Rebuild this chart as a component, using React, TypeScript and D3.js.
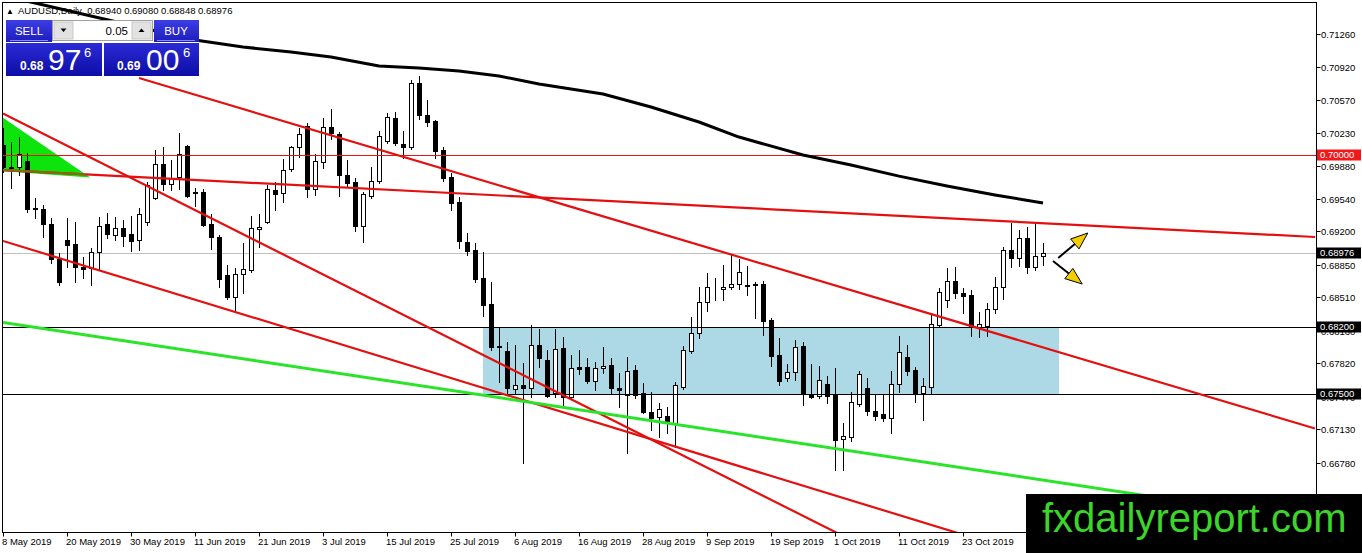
import React from "react";
import * as d3 from "d3";

// ---------- DATA ----------
const opens = [
  0.70101, 0.69866, 0.69871, 0.69934, 0.69443, 0.69432, 0.69276, 0.6891, 0.69109, 0.69067,
  0.68827, 0.68816, 0.68983, 0.69276, 0.69161, 0.69234, 0.69171, 0.69109, 0.69297, 0.69547,
  0.69902, 0.69693, 0.69767, 0.7009, 0.6961, 0.6961, 0.69276, 0.6914, 0.68743, 0.68513,
  0.68754, 0.68795, 0.69224, 0.69297, 0.69631, 0.696, 0.6985, 0.7008, 0.70299, 0.69641,
  0.69923, 0.70289, 0.70216, 0.69788, 0.69714, 0.69255, 0.69568, 0.69725, 0.70143, 0.70383,
  0.70111, 0.7008, 0.70748, 0.70414, 0.70351, 0.70049, 0.69767, 0.69506, 0.69088, 0.69004,
  0.68712, 0.6844, 0.68002, 0.6795, 0.67553, 0.67594, 0.67563, 0.68012, 0.67856, 0.67511,
  0.67981, 0.67469, 0.67782, 0.67782, 0.67636, 0.67772, 0.67803, 0.67563, 0.6749, 0.67751,
  0.67511, 0.67313, 0.6726, 0.67271, 0.67198, 0.67574, 0.6795, 0.68138, 0.68461, 0.68597,
  0.68597, 0.68618, 0.68649, 0.68639, 0.68649, 0.68649, 0.68273, 0.67908, 0.67668, 0.6773,
  0.68002, 0.675, 0.6748, 0.67605, 0.6749, 0.67031, 0.67051, 0.67396, 0.67563, 0.67323,
  0.67292, 0.6725, 0.67605, 0.67887, 0.67751, 0.67511, 0.67574, 0.68221, 0.68482, 0.68681,
  0.68555, 0.68534, 0.682, 0.68211, 0.68388, 0.68618, 0.69004, 0.68921, 0.6913, 0.68827,
  0.6894,
];
const highs = [
  0.70278, 0.70132, 0.70184, 0.70017, 0.69547, 0.69474, 0.69338, 0.68973, 0.69338, 0.69297,
  0.68931, 0.69025, 0.69349, 0.69391, 0.69349, 0.69318, 0.69359, 0.69443, 0.69714, 0.70049,
  0.7008, 0.69944, 0.70226, 0.70101, 0.69652, 0.69641, 0.6938, 0.69161, 0.68848, 0.68816,
  0.69077, 0.69359, 0.6938, 0.69683, 0.69714, 0.69955, 0.7009, 0.70278, 0.70331, 0.70007,
  0.70383, 0.70477, 0.70237, 0.69944, 0.69756, 0.6961, 0.69871, 0.70247, 0.70435, 0.70445,
  0.70247, 0.7078, 0.70821, 0.70571, 0.70362, 0.7008, 0.69808, 0.69558, 0.69182, 0.69077,
  0.68983, 0.6867, 0.682, 0.68044, 0.68012, 0.67824, 0.68221, 0.68179, 0.6796, 0.68179,
  0.68096, 0.67908, 0.6796, 0.67876, 0.67835, 0.67991, 0.67876, 0.6772, 0.67887, 0.67803,
  0.67615, 0.67521, 0.67407, 0.67365, 0.67626, 0.68002, 0.68305, 0.68618, 0.68764, 0.68712,
  0.68848, 0.68952, 0.6891, 0.68837, 0.6867, 0.68681, 0.68294, 0.68085, 0.67814, 0.68064,
  0.68044, 0.67814, 0.67793, 0.67688, 0.67772, 0.67198, 0.67521, 0.67741, 0.67668, 0.6749,
  0.6749, 0.67741, 0.68106, 0.68012, 0.67782, 0.67668, 0.68326, 0.68607, 0.68816, 0.68827,
  0.68607, 0.68587, 0.68357, 0.68451, 0.68722, 0.69036, 0.69286, 0.69213, 0.69244, 0.69286,
  0.6908,
];
const lows = [
  0.69819, 0.69652, 0.69788, 0.69401, 0.69338, 0.6914, 0.68869, 0.68639, 0.68827, 0.6867,
  0.68712, 0.68639, 0.68795, 0.6913, 0.69109, 0.69046, 0.68994, 0.69004, 0.69265, 0.69537,
  0.69631, 0.69631, 0.69641, 0.69558, 0.69464, 0.69255, 0.69015, 0.68618, 0.68493, 0.68357,
  0.68555, 0.68775, 0.69036, 0.69286, 0.69422, 0.69506, 0.69829, 0.69975, 0.69558, 0.69579,
  0.69861, 0.70163, 0.69568, 0.69673, 0.69203, 0.69088, 0.69547, 0.69704, 0.70122, 0.70101,
  0.69965, 0.70059, 0.70372, 0.70299, 0.69965, 0.69725, 0.69422, 0.69025, 0.68952, 0.6867,
  0.68315, 0.6796, 0.67626, 0.67511, 0.67511, 0.6678, 0.67469, 0.67782, 0.67469, 0.67469,
  0.67365, 0.67459, 0.67709, 0.67615, 0.67542, 0.6772, 0.675, 0.67365, 0.66884, 0.67459,
  0.67302, 0.67125, 0.67051, 0.67093, 0.66947, 0.67553, 0.67929, 0.68085, 0.68367, 0.68482,
  0.68482, 0.68597, 0.68597, 0.68534, 0.68294, 0.68117, 0.67793, 0.67594, 0.67636, 0.67647,
  0.67386, 0.67459, 0.67459, 0.67407, 0.66707, 0.66707, 0.6701, 0.67375, 0.67281, 0.67229,
  0.67219, 0.67093, 0.67521, 0.67699, 0.67417, 0.67229, 0.67511, 0.68211, 0.68409, 0.68503,
  0.68346, 0.68106, 0.68096, 0.68106, 0.68346, 0.68493, 0.68827, 0.68837, 0.68764, 0.68795,
  0.68848,
];
const closes = [
  0.69871, 0.69861, 0.70007, 0.69432, 0.69432, 0.69276, 0.6891, 0.6867, 0.69057, 0.68827,
  0.68806, 0.68983, 0.69255, 0.69171, 0.69234, 0.69151, 0.69098, 0.6938, 0.69683, 0.69902,
  0.69693, 0.69756, 0.70007, 0.69568, 0.696, 0.69265, 0.6914, 0.68701, 0.68513, 0.68754,
  0.68806, 0.69234, 0.69244, 0.69641, 0.69589, 0.6984, 0.7008, 0.70216, 0.69641, 0.69934,
  0.70289, 0.70226, 0.69788, 0.69704, 0.69255, 0.69589, 0.69725, 0.70195, 0.70393, 0.70122,
  0.7008, 0.70748, 0.70414, 0.70341, 0.70038, 0.69756, 0.69495, 0.69098, 0.68994, 0.68701,
  0.6843, 0.67991, 0.67991, 0.67563, 0.67594, 0.67563, 0.68012, 0.67876, 0.6748, 0.6797,
  0.67469, 0.67772, 0.67762, 0.67636, 0.67772, 0.67793, 0.67563, 0.67542, 0.67741, 0.6749,
  0.67313, 0.6725, 0.67344, 0.67198, 0.67594, 0.6796, 0.68138, 0.68461, 0.68618, 0.68602,
  0.68618, 0.68649, 0.68775, 0.68628, 0.68639, 0.68263, 0.67897, 0.67636, 0.6773, 0.67991,
  0.675, 0.67469, 0.67647, 0.6748, 0.6702, 0.67062, 0.67417, 0.67709, 0.67323, 0.67271,
  0.6725, 0.67605, 0.67939, 0.67741, 0.675, 0.67584, 0.68232, 0.68566, 0.68681, 0.68555,
  0.68524, 0.682, 0.68232, 0.68388, 0.68618, 0.69004, 0.68921, 0.6913, 0.68827, 0.68942,
  0.68976,
];

const dateLabels = [
  "8 May 2019", "20 May 2019", "30 May 2019", "11 Jun 2019", "21 Jun 2019", "3 Jul 2019",
  "15 Jul 2019", "25 Jul 2019", "6 Aug 2019", "16 Aug 2019", "28 Aug 2019", "9 Sep 2019",
  "19 Sep 2019", "1 Oct 2019", "11 Oct 2019", "23 Oct 2019", "4 Nov 2019",
];
const dateLabelBars = [0, 8, 16, 24, 32, 40, 48, 56, 64, 72, 80, 88, 96, 104, 112, 120, 128];

const priceTicks = [
  0.7126, 0.7092, 0.7057, 0.7023, 0.6988, 0.6954, 0.692, 0.6885, 0.6851, 0.6816, 0.6782,
  0.6747, 0.6713, 0.6678, 0.6644,
];
const priceTickLabels = [
  "0.71260", "0.70920", "0.70570", "0.70230", "0.69880", "0.69540", "0.69200", "0.68850",
  "0.68510", "0.68160", "0.67820", "0.67470", "0.67130", "0.66780", "0.66440",
];

// moving average (read at selected bars)
const maBars = [0, 4, 11, 24, 30, 36, 41, 47, 52, 57, 62, 67, 75, 81, 87, 92, 100, 106, 112, 118, 124, 130];
const maValues = [
  0.71657, 0.71584, 0.71448, 0.71197, 0.71124, 0.71072, 0.7102, 0.70926, 0.70905, 0.70874,
  0.70821, 0.70738, 0.70633, 0.70498, 0.70341, 0.70184, 0.69996, 0.69892, 0.69776, 0.69672,
  0.69579, 0.69495,
];

// trend lines: [bar1, price1, bar2, price2]
const redTrendLines = [
  [17, 0.708, 164, 0.6714],
  [0, 0.69838, 164, 0.6914],
  [0, 0.7043, 120, 0.65388],
  [0, 0.69099, 140, 0.65521],
];
const greenTrendLine = [0, 0.68247, 160, 0.66222];

const triangleBars = [-0.5, 10.9, -0.5];
const trianglePrices = [0.70414, 0.69762, 0.69829];

const zoneBars = [60, 132];
const zonePrices = [0.682, 0.675];

const redLevel = 0.7;
const blackLevels = [0.682, 0.675];
const bidPrice = 0.68976;

const arrows = [
  [131.9, 0.68921, 135.6, 0.69182],
  [131.25, 0.68889, 134.9, 0.68649],
];

const headerText = "AUDUSD,Daily  0.68940 0.69080 0.68848 0.68976";

// ---------- CHART ----------
const W = 1362;
const H = 553;
const L = 2.5, T = 2.5, R = 1316.5, B = 532.5;
const AXIS_FONT = "'Liberation Sans', Arial, sans-serif";

export default function App() {
  const x = d3.scaleLinear().domain([0, 164]).range([3, 1315]);
  const y = d3.scaleLinear().domain([0.7126, 0.6678]).range([34, 463]);

  const candles = opens.map((o, i) => {
    const c = closes[i], h = highs[i], l = lows[i];
    const cx = Math.round(x(i));
    const top = Math.round(y(Math.max(o, c)));
    const bot = Math.round(y(Math.min(o, c)));
    const bull = c >= o;
    return (
      <g key={i}>
        <line x1={cx + 0.5} x2={cx + 0.5} y1={Math.round(y(h))} y2={Math.round(y(l)) + 1} stroke="#000" strokeWidth={1} />
        {bull ? (
          <rect x={cx - 1.5} y={top + 0.5} width={4} height={Math.max(bot - top, 0)} fill="#fff" stroke="#000" strokeWidth={1} />
        ) : (
          <rect x={cx - 2} y={top} width={5} height={Math.max(bot - top + 1, 1)} fill="#000" />
        )}
      </g>
    );
  });

  const maLine = d3
    .line<number>()
    .x((_, k) => x(maBars[k]))
    .y((v) => y(v))(maValues);

  const triPoints = triangleBars.map((b, k) => `${x(b)},${y(trianglePrices[k])}`).join(" ");

  const seg = (t: number[]) => ({ x1: x(t[0]), y1: y(t[1]), x2: x(t[2]), y2: y(t[3]) });

  const arrowEls = arrows.map((a, k) => {
    const x1 = x(a[0]), y1 = y(a[1]), x2 = x(a[2]), y2 = y(a[3]);
    const ang = Math.atan2(y2 - y1, x2 - x1);
    const ux = Math.cos(ang), uy = Math.sin(ang);
    const len = 17, hw = 6.5;
    const bx = x2 - ux * len, by = y2 - uy * len;
    const pts = [
      [x2, y2],
      [bx - uy * hw, by + ux * hw],
      [bx + uy * hw, by - ux * hw],
    ];
    return (
      <g key={k}>
        <line x1={x1} y1={y1} x2={bx + ux * 2} y2={by + uy * 2} stroke="#000" strokeWidth={2} />
        <polygon points={pts.map((p) => p.join(",")).join(" ")} fill="#f2cd00" stroke="#000" strokeWidth={1} strokeLinejoin="round" />
      </g>
    );
  });

  const priceBox = (p: number, label: string, bg: string) => {
    const yy = Math.round(y(p));
    return (
      <g key={label}>
        <rect x={1317} y={yy - 5.5} width={44} height={11} fill={bg} />
        <text x={1320} y={yy} dy="0.35em" fontSize={9.5} fontFamily={AXIS_FONT} fill="#fff">{label}</text>
      </g>
    );
  };

  return (
    <svg
      width={W}
      height={H}
      viewBox={`0 0 ${W} ${H}`}
      style={{ position: "absolute", left: 0, top: 0, background: "#fff", display: "block" }}
    >
      <defs>
        <clipPath id="plot">
          <rect x={3} y={3} width={R - 3.5} height={B - 3.5} />
        </clipPath>
        <clipPath id="tri">
          <polygon points={triPoints} />
        </clipPath>
        <linearGradient id="btnGrad" x1="0" y1="0" x2="0" y2="1">
          <stop offset="0" stopColor="#3d3de6" />
          <stop offset="1" stopColor="#1d1dbd" />
        </linearGradient>
        <linearGradient id="priceGrad" x1="0" y1="0" x2="0" y2="1">
          <stop offset="0" stopColor="#2b2bd6" />
          <stop offset="1" stopColor="#0d0da6" />
        </linearGradient>
      </defs>

      <rect x={0} y={0} width={W} height={H} fill="#fff" />

      <g clipPath="url(#plot)">
        {/* green triangle */}
        <polygon points={triPoints} fill="#0ce40c" />
        {/* zone */}
        <rect
          x={x(zoneBars[0])}
          y={y(zonePrices[0])}
          width={x(zoneBars[1]) - x(zoneBars[0])}
          height={y(zonePrices[1]) - y(zonePrices[0])}
          fill="#add8e6"
        />
        {/* bid line */}
        <line x1={3} x2={R} y1={Math.round(y(bidPrice)) + 0.5} y2={Math.round(y(bidPrice)) + 0.5} stroke="#c0c0c0" strokeWidth={1} />
        <g shapeRendering="crispEdges">{candles}</g>
        {/* horizontal levels */}
        <line x1={3} x2={R} y1={Math.round(y(redLevel)) + 0.5} y2={Math.round(y(redLevel)) + 0.5} stroke="#e81414" strokeWidth={1} />
        {blackLevels.map((p) => (
          <line key={p} x1={3} x2={R} y1={Math.round(y(p)) + 0.5} y2={Math.round(y(p)) + 0.5} stroke="#000" strokeWidth={1} />
        ))}
        {/* trend lines */}
        {redTrendLines.map((t, k) => (
          <line key={k} {...seg(t)} stroke="#e41010" strokeWidth={2.2} />
        ))}
        <g clipPath="url(#tri)">
          <line {...seg(redTrendLines[1])} stroke="#8a6812" strokeWidth={2.4} />
        </g>
        <line {...seg(greenTrendLine)} stroke="#2ae42a" strokeWidth={3} />
        {/* moving average */}
        <path d={maLine ?? ""} fill="none" stroke="#000" strokeWidth={3} strokeLinejoin="round" />
        {arrowEls}
      </g>

      {/* frame */}
      <rect x={L} y={T} width={R - L} height={B - T} fill="none" stroke="#000" strokeWidth={1} shapeRendering="crispEdges" />

      {/* price axis */}
      {priceTicks.map((p, k) => {
        const yy = Math.round(y(p)) + 0.5;
        return (
          <g key={p}>
            <line x1={R} x2={R + 4} y1={yy} y2={yy} stroke="#000" strokeWidth={1} />
            <text x={1321} y={yy} dy="0.35em" fontSize={9.5} fontFamily={AXIS_FONT} fill="#000">
              {priceTickLabels[k]}
            </text>
          </g>
        );
      })}
      {priceBox(redLevel, "0.70000", "#f01818")}
      {priceBox(bidPrice, "0.68976", "#000")}
      {priceBox(blackLevels[0], "0.68200", "#000")}
      {priceBox(blackLevels[1], "0.67500", "#000")}

      {/* date axis */}
      {dateLabels.map((lab, k) => {
        const xx = Math.round(x(dateLabelBars[k])) + 0.5;
        return (
          <g key={lab}>
            <line x1={xx} x2={xx} y1={B} y2={B + 4} stroke="#000" strokeWidth={1} />
            <text x={xx - 1.5} y={545} fontSize={9.5} fontFamily={AXIS_FONT} fill="#000">
              {lab}
            </text>
          </g>
        );
      })}

      {/* header */}
      <text x={6} y={14} fontSize={8} fontFamily={AXIS_FONT} fill="#000">▲</text>
      <text x={18} y={14} fontSize={9.5} fontFamily={AXIS_FONT} fill="#000" style={{ whiteSpace: "pre" }}>
        {headerText}
      </text>

      {/* one-click trading panel */}
      <g fontFamily={AXIS_FONT}>
        <rect x={6} y={20} width={46} height={22} fill="url(#btnGrad)" />
        <line x1={10} x2={48} y1={40.5} y2={40.5} stroke="#8a8af0" strokeWidth={1} />
        <text x={29} y={35} fontSize={11.5} fill="#fff" textAnchor="middle">SELL</text>

        <rect x={52.5} y={20.5} width={100} height={20} fill="#fff" stroke="#a0a0a0" strokeWidth={1} />
        <rect x={54} y={22} width={19} height={17} fill="#e2e2e2" stroke="#c8c8c8" strokeWidth={1} />
        <polygon points="60.5,28.5 66.5,28.5 63.5,32" fill="#000" />
        <rect x={132} y={22} width={19} height={17} fill="#e2e2e2" stroke="#c8c8c8" strokeWidth={1} />
        <polygon points="138.5,32 144.5,32 141.5,28.5" fill="#000" />
        <text x={128} y={35} fontSize={11.5} fill="#000" textAnchor="end">0.05</text>

        <rect x={154} y={20} width={45} height={22} fill="url(#btnGrad)" />
        <line x1={157} x2={195} y1={40.5} y2={40.5} stroke="#8a8af0" strokeWidth={1} />
        <text x={176} y={35} fontSize={11.5} fill="#fff" textAnchor="middle">BUY</text>

        <rect x={6} y={43} width={96} height={33} fill="url(#priceGrad)" />
        <text x={20} y={70} fontSize={12} fontWeight="bold" fill="#fff">0.68</text>
        <text x={48} y={70} fontSize={30} fill="#fff">97</text>
        <text x={84} y={57} fontSize={13} fill="#fff">6</text>

        <rect x={104} y={43} width={95} height={33} fill="url(#priceGrad)" />
        <text x={117} y={70} fontSize={12} fontWeight="bold" fill="#fff">0.69</text>
        <text x={146} y={70} fontSize={30} fill="#fff">00</text>
        <text x={183} y={57} fontSize={13} fill="#fff">6</text>
      </g>

      {/* watermark */}
      <rect x={1026} y={494} width={336} height={59} fill="#000" />
      <text x={1042} y={532} fontSize={40} fontFamily={AXIS_FONT} fill="#3cd52a">fxdailyreport.com</text>
    </svg>
  );
}
